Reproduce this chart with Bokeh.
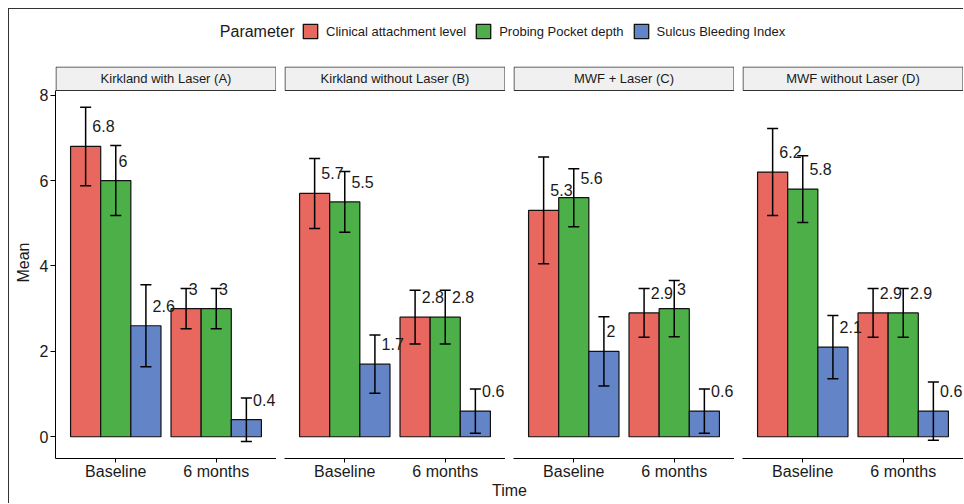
from bokeh.plotting import figure
from bokeh.layouts import row, column
from bokeh.models import Range1d, ColumnDataSource, FixedTicker, Legend, LegendItem
from bokeh.core.properties import value
from bokeh.embed import file_html
from bokeh.resources import INLINE

# ---------------- data ----------------
groups = ["Kirkland with Laser (A)", "Kirkland without Laser (B)",
          "MWF + Laser (C)", "MWF without Laser (D)"]
times = ["Baseline", "6 months"]
params = ["Clinical attachment level", "Probing Pocket depth", "Sulcus Bleeding Index"]
colors = ["#E8675F", "#4CAF48", "#6484C8"]

# mean per group: [Baseline, 6 months]
cal_mean = [[6.8, 3.0], [5.7, 2.8], [5.3, 2.9], [6.2, 2.9]]
ppd_mean = [[6.0, 3.0], [5.5, 2.8], [5.6, 3.0], [5.8, 2.9]]
sbi_mean = [[2.6, 0.4], [1.7, 0.6], [2.0, 0.6], [2.1, 0.6]]
# standard deviations (error bar half-lengths)
cal_sd = [[0.92, 0.47], [0.82, 0.63], [1.25, 0.57], [1.02, 0.57]]
ppd_sd = [[0.82, 0.47], [0.71, 0.63], [0.68, 0.66], [0.78, 0.57]]
sbi_sd = [[0.96, 0.51], [0.68, 0.52], [0.81, 0.52], [0.74, 0.68]]
y_ticks = [0, 2, 4, 6, 8]

means = [cal_mean, ppd_mean, sbi_mean]
sds = [cal_sd, ppd_sd, sbi_sd]

# ---------------- styling constants ----------------
FONT = "Liberation Sans"
TXT = "#1a1a1a"
FRAME_W = 221
FRAME_H = 392
STRIP_PX = 24
Y_LO, Y_HI = -0.51, 8.11
px_per_unit = (FRAME_H - STRIP_PX) / (Y_HI - Y_LO)
Y_TOP = Y_HI + STRIP_PX / px_per_unit
X_LO, X_HI = 0.4, 2.6
xpx = FRAME_W / (X_HI - X_LO)
DODGE = 0.3
CAP = 0.055
TOP_B, BOT_B = 4, 25
LEFT_A = 46
GAP = 8
LEG_H = 53
TIME_H = 20

char_w = {".": 0.278}


def text_width(s, size):
    return sum(char_w.get(c, 0.556) for c in s) * size


panels = []
for g, gname in enumerate(groups):
    first = g == 0
    p = figure(width=(LEFT_A if first else GAP) + FRAME_W, height=TOP_B + FRAME_H + BOT_B,
               x_range=Range1d(X_LO, X_HI), y_range=Range1d(Y_LO, Y_TOP),
               output_backend="svg", toolbar_location=None,
               y_axis_location="left" if first else None,
               min_border_left=LEFT_A if first else GAP, min_border_right=0,
               min_border_top=TOP_B, min_border_bottom=BOT_B,
               outline_line_color=None)
    p.grid.visible = False

    xs, tops, cols, lo, hi, labs, xoff = [], [], [], [], [], [], []
    for k in range(3):
        for t in range(2):
            m = means[k][g][t]
            s = sds[k][g][t]
            xs.append(t + 1 + (k - 1) * DODGE)
            tops.append(m)
            cols.append(colors[k])
            lo.append(m - s)
            hi.append(m + s)
            lab = f"{m:g}"
            labs.append(lab)
            xoff.append(0.3 * text_width(lab, 16))
    src = ColumnDataSource(dict(x=xs, top=tops, color=cols, lo=lo, hi=hi, lab=labs, xoff=xoff,
                                cl=[x - CAP for x in xs], cr=[x + CAP for x in xs]))
    p.vbar(x="x", top="top", bottom=0, width=DODGE, fill_color="color",
           line_color="#111111", line_width=1.2, source=src)
    p.segment(x0="x", y0="lo", x1="x", y1="hi", line_color="black", line_width=1.5, source=src)
    p.segment(x0="cl", y0="hi", x1="cr", y1="hi", line_color="black", line_width=1.5, source=src)
    p.segment(x0="cl", y0="lo", x1="cr", y1="lo", line_color="black", line_width=1.5, source=src)
    p.text(x="x", y="top", text="lab", x_offset="xoff", y_offset=-20, source=src,
           text_font=value(FONT), text_font_size="16px", text_align="left",
           text_baseline="middle", text_color=TXT)

    # facet strip
    half_x = 0.5 / xpx
    half_y = 0.5 / px_per_unit
    p.quad(left=[X_LO + half_x], right=[X_HI - half_x], bottom=[Y_HI], top=[Y_TOP - half_y],
           fill_color="#F0F0F0", line_color="#333333", line_width=1)
    p.text(x=[(X_LO + X_HI) / 2], y=[(Y_HI + Y_TOP) / 2], text=[gname],
           text_font=value(FONT), text_font_size="13px", text_align="center",
           text_baseline="middle", text_color=TXT)

    # x axis
    xa = p.xaxis[0]
    xa.ticker = FixedTicker(ticks=[1, 2])
    xa.major_label_overrides = {1: times[0], 2: times[1]}
    xa.major_label_text_font = FONT
    xa.major_label_text_font_size = "16px"
    xa.major_label_text_color = TXT
    xa.major_tick_in = 0
    xa.major_tick_out = 4
    xa.major_label_standoff = 0
    xa.minor_tick_line_color = None
    xa.axis_line_color = "black"
    xa.major_tick_line_color = "black"

    if first:
        ya = p.yaxis[0]
        ya.ticker = FixedTicker(ticks=y_ticks)
        ya.bounds = (Y_LO, Y_HI)
        ya.major_label_text_font = FONT
        ya.major_label_text_font_size = "16px"
        ya.major_label_text_color = TXT
        ya.major_tick_in = 0
        ya.major_tick_out = 5
        ya.major_label_standoff = 2
        ya.minor_tick_line_color = None
        ya.axis_line_color = "black"
        ya.major_tick_line_color = "black"
        ya.axis_label = "Mean"
        ya.axis_label_text_font = FONT
        ya.axis_label_text_font_size = "16px"
        ya.axis_label_text_font_style = "normal"
        ya.axis_label_text_color = TXT
        ya.axis_label_standoff = 5
    panels.append(p)

TOTAL_W = LEFT_A + 4 * FRAME_W + 4 * GAP - GAP

# ---------------- legend strip ----------------
leg = figure(width=TOTAL_W, height=LEG_H, x_range=Range1d(0, TOTAL_W), y_range=Range1d(0, LEG_H),
             output_backend="svg", toolbar_location=None, x_axis_location=None,
             y_axis_location=None, min_border=0, outline_line_color=None)
leg.grid.visible = False
items = []
for k in range(3):
    # legend-only key renderer, placed outside the visible range
    r = leg.quad(left=[-30], right=[-20], top=[-20], bottom=[-30], fill_color=colors[k],
                 line_color="#111111", line_width=1.3)
    items.append(LegendItem(label=params[k], renderers=[r]))
legend = Legend(items=items, orientation="horizontal", location=(292, 22),
                glyph_width=18, glyph_height=18, label_height=18, label_width=10,
                label_standoff=7, spacing=8, padding=0, margin=0,
                border_line_color=None, background_fill_alpha=0,
                label_text_font=FONT, label_text_font_size="13px", label_text_color=TXT)
leg.add_layout(legend)
leg.text(x=[285], y=[31], text=["Parameter"], text_font=value(FONT), text_font_size="16px",
         text_align="right", text_baseline="middle", text_color=TXT)

# ---------------- x axis title ----------------
tf = figure(width=TOTAL_W, height=TIME_H, x_range=Range1d(0, TOTAL_W), y_range=Range1d(0, TIME_H),
            output_backend="svg", toolbar_location=None, x_axis_location=None,
            y_axis_location=None, min_border=0, outline_line_color=None)
tf.grid.visible = False
tf.text(x=[LEFT_A + (TOTAL_W - LEFT_A) / 2], y=[TIME_H - 7], text=["Time"],
        text_font=value(FONT), text_font_size="16px", text_align="center",
        text_baseline="middle", text_color=TXT)

layout = column(leg, row(*panels), tf,
                styles={"margin-left": "8px", "margin-top": "8px",
                        "border-left": "1px solid #333333", "border-top": "1px solid #333333"})

open("out.html", "w").write(file_html(layout, INLINE))
